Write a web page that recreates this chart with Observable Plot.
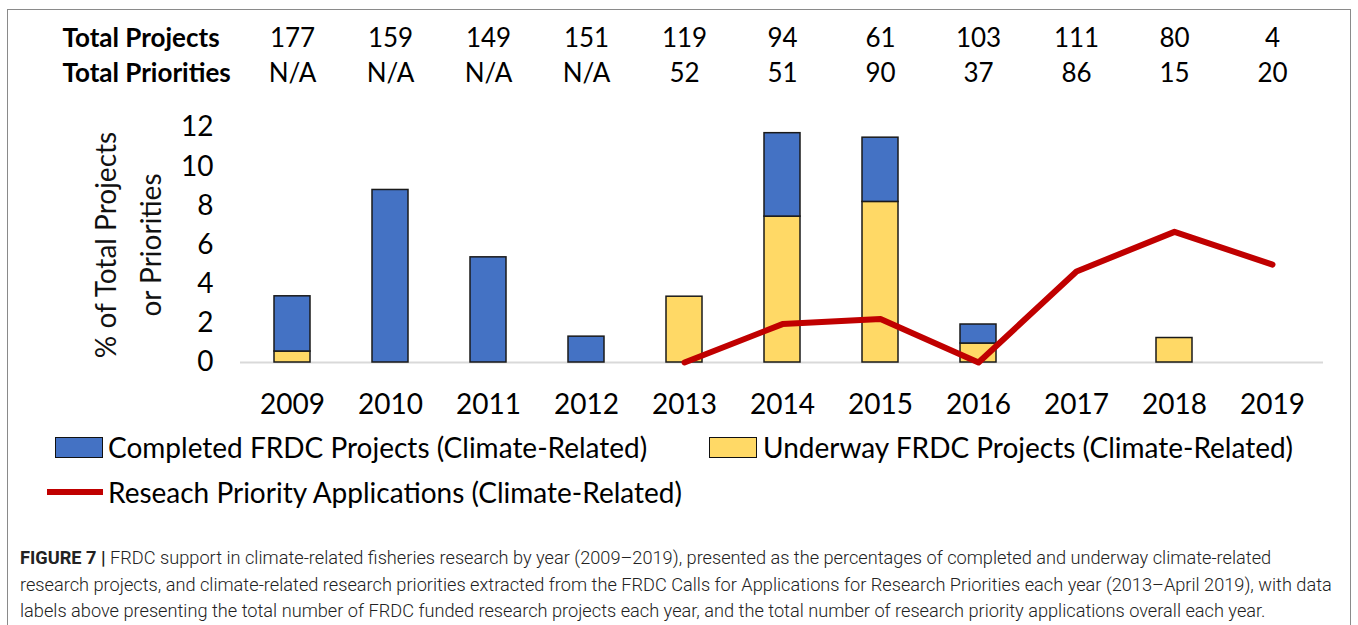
<!DOCTYPE html>
<html>
<head>
<meta charset="utf-8">
<script src="https://cdn.jsdelivr.net/npm/d3@7"></script>
<script src="https://cdn.jsdelivr.net/npm/@observablehq/plot@0.6"></script>
<style>
  html, body { margin: 0; padding: 0; background: #fff; width: 1358px; height: 625px; overflow: hidden; }
  #frame { position: absolute; left: 7px; top: 9px; width: 1344px; height: 700px; border: 1.5px solid #8a8a8a; box-sizing: border-box; }
  #chart { position: absolute; left: 0; top: 0; }
  .leg { position: absolute; font-family: Lato, sans-serif; font-size: 28px; color: #000; white-space: nowrap; line-height: 1; }
  .sw { position: absolute; box-sizing: border-box; border: 1.5px solid #111; }
  #caption { position: absolute; left: 20px; top: 545px; font-family: Roboto, "Liberation Sans", sans-serif; font-size: 18.2px; line-height: 26.5px; color: #222; white-space: nowrap; font-weight: 300; }
  #caption b { font-weight: 700; color: #222; }
</style>
</head>
<body>
<div id="frame"></div>
<div id="chart"></div>
<div class="sw" style="left:55px; top:437px; width:48px; height:21px; background:#4472C4;"></div>
<div class="leg" style="left:108px; top:433px;">Completed FRDC Projects (Climate-Related)</div>
<div class="sw" style="left:709px; top:437px; width:48px; height:21px; background:#FFD966;"></div>
<div class="leg" style="left:763px; top:433px;">Underway FRDC Projects (Climate-Related)</div>
<div style="position:absolute; left:47px; top:489px; width:56px; height:6px; background:#C00000;"></div>
<div class="leg" style="left:108px; top:478px;">Reseach Priority Applications (Climate-Related)</div>
<div id="caption"><b>FIGURE 7 |</b> FRDC support in climate-related fisheries research by year (2009–2019), presented as the percentages of completed and underway climate-related<br>research projects, and climate-related research priorities extracted from the FRDC Calls for Applications for Research Priorities each year (2013–April 2019), with data<br>labels above presenting the total number of FRDC funded research projects each year, and the total number of research priority applications overall each year.</div>
<script>
const years = ["2009","2010","2011","2012","2013","2014","2015","2016","2017","2018","2019"];
const completed = [2.82, 8.81, 5.37, 1.32, 0, 4.26, 3.28, 0.97, 0, 0, 0];
const underway  = [0.56, 0, 0, 0, 3.36, 7.45, 8.20, 0.97, 0, 1.25, 0];
const totalProjects = ["177","159","149","151","119","94","61","103","111","80","4"];
const totalPriorities = ["N/A","N/A","N/A","N/A","52","51","90","37","86","15","20"];
const priorityYears = ["2013","2014","2015","2016","2017","2018","2019"];
const priorityPct = [0, 1.96, 2.22, 0, 4.65, 6.67, 5.00];
const yTicks = [0, 2, 4, 6, 8, 10, 12];

const barRows = [];
years.forEach((y, i) => { if (underway[i] > 0) barRows.push({year: y, series: "Underway", value: underway[i]}); });
years.forEach((y, i) => { if (completed[i] > 0) barRows.push({year: y, series: "Completed", value: completed[i]}); });
const lineRows = priorityYears.map((y, i) => ({year: y, value: priorityPct[i]}));
const headRows = years.map((y, i) => ({year: y, p: totalProjects[i], q: totalPriorities[i]}));

const font = "Lato, sans-serif";
const chart = Plot.plot({
  width: 1358,
  height: 420,
  marginLeft: 240,
  marginRight: 35,
  marginTop: 127,
  marginBottom: 58,
  style: {fontFamily: font, background: "transparent", overflow: "visible"},
  x: {domain: years, paddingInner: 0.634, paddingOuter: 0.317, label: null},
  y: {domain: [0, 12], label: null},
  color: {domain: ["Underway", "Completed"], range: ["#FFD966", "#4472C4"]},
  marks: [
    Plot.ruleY([0], {stroke: "#d9d9d9", strokeWidth: 2}),
    Plot.barY(barRows, Plot.stackY({x: "year", y: "value", fill: "series", z: "series", stroke: "#1a1a1a", strokeWidth: 1.5, order: null})),
    Plot.line(lineRows, {x: "year", y: "value", stroke: "#C00000", strokeWidth: 6}),
    Plot.axisY({ticks: yTicks, tickSize: 0, tickPadding: 27, fontSize: 28, label: null, tickFormat: d => String(d)}),
    Plot.axisX({tickSize: 0, tickPadding: 32, fontSize: 28, label: null}),
    Plot.text(["% of Total Projects\nor Priorities"], {frameAnchor: "left", dx: -116, rotate: -90, lineHeight: 1.6, fontSize: 28, fill: "#111", textAnchor: "middle", lineAnchor: "middle"}),
    Plot.text(headRows, {x: "year", frameAnchor: "top", dy: -89, text: "p", fontSize: 26, fill: "#000", lineAnchor: "middle"}),
    Plot.text(headRows, {x: "year", frameAnchor: "top", dy: -54, text: "q", fontSize: 26, fill: "#000", lineAnchor: "middle"}),
    Plot.text(["Total Projects"], {frameAnchor: "top-left", dx: -178, dy: -89, textAnchor: "start", lineAnchor: "middle", fontSize: 26, fontWeight: "bold", fill: "#000"}),
    Plot.text(["Total Priorities"], {frameAnchor: "top-left", dx: -178, dy: -54, textAnchor: "start", lineAnchor: "middle", fontSize: 26, fontWeight: "bold", fill: "#000"})
  ]
});
document.getElementById("chart").appendChild(chart);
</script>
</body>
</html>
